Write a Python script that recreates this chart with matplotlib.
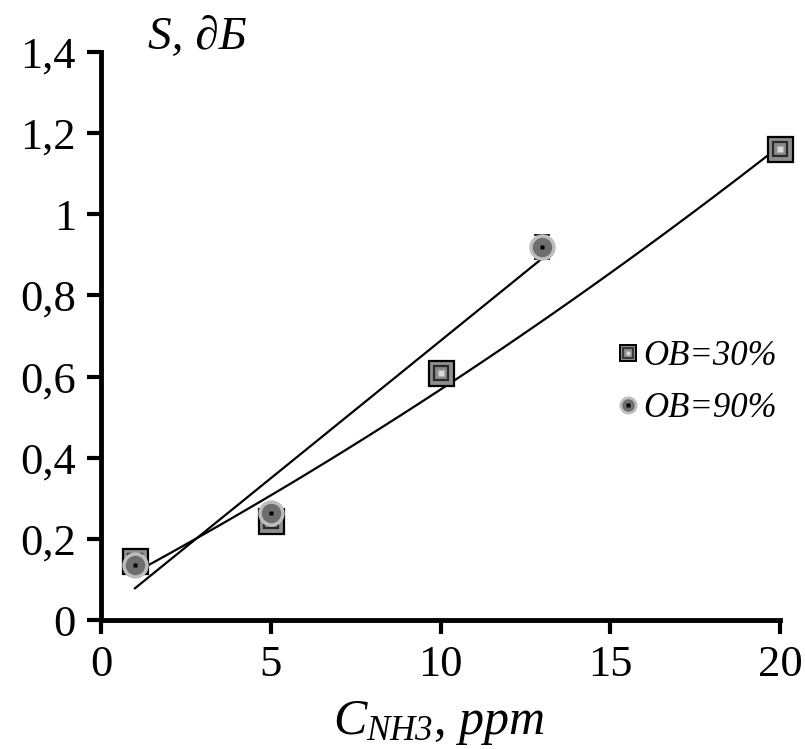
import numpy as np
import matplotlib
matplotlib.use("Agg")
import matplotlib.pyplot as plt
from matplotlib.lines import Line2D

# Данные
x_30 = [1, 5, 10, 20]
s_30 = [0.145, 0.245, 0.61, 1.162]
x_90 = [1, 5, 13]
s_90 = [0.135, 0.265, 0.92]
err_90 = [0.0, 0.0, 0.03]
x_ticks = [0, 5, 10, 15, 20]
y_ticks = [0, 0.2, 0.4, 0.6, 0.8, 1.0, 1.2, 1.4]
y_labels = ["0", "0,2", "0,4", "0,6", "0,8", "1", "1,2", "1,4"]

plt.rcParams["font.family"] = ["Liberation Serif", "DejaVu Serif"]
plt.rcParams["mathtext.fontset"] = "custom"
plt.rcParams["mathtext.it"] = "Liberation Serif:italic"
plt.rcParams["mathtext.rm"] = "Liberation Serif:italic"

fig = plt.figure(figsize=(8.05, 7.49), dpi=100)
ax = fig.add_axes([0.1255, 0.172, 0.8435, 0.7586])

# линии тренда
p30 = np.polyfit(x_30, s_30, 2)
xx = np.linspace(1, 20, 100)
ax.plot(xx, np.polyval(p30, xx), color="black", lw=1.6, zorder=2)
p90 = np.polyfit(x_90, s_90, 1)
xx = np.linspace(1, 13, 50)
ax.plot(xx, np.polyval(p90, xx), color="black", lw=1.6, zorder=2)

def square_marker(x, y, scale=1.0):
    ax.plot(x, y, ls="none", marker="s", ms=18 * scale, mfc="#8f8f8f", mec="black", mew=1.6, clip_on=False, zorder=3)
    ax.plot(x, y, ls="none", marker="s", ms=10 * scale, mfc="#8a8a8a", mec="#2a2a2a", mew=1.6, clip_on=False, zorder=3)
    ax.plot(x, y, ls="none", marker="s", ms=4 * scale, mfc="#d8d8d8", mec="none", clip_on=False, zorder=3)

def circle_marker(x, y, scale=1.0):
    ax.plot(x, y, ls="none", marker="o", ms=19 * scale, mfc="#bdbdbd", mec="none", clip_on=False, zorder=4)
    ax.plot(x, y, ls="none", marker="o", ms=14 * scale, mfc="#6e6e6e", mec="none", clip_on=False, zorder=4)
    ax.plot(x, y, ls="none", marker="s", ms=3.5 * scale, mfc="black", mec="none", clip_on=False, zorder=4)

square_marker(x_30, s_30)
ax.errorbar(x_90, s_90, yerr=err_90, fmt="none", ecolor="black", elinewidth=1, capsize=6, capthick=1.2, zorder=3)
circle_marker(x_90, s_90)

ax.set_xlim(0, 20)
ax.set_ylim(0, 1.4)
ax.set_xticks(x_ticks)
ax.set_yticks(y_ticks)
ax.set_yticklabels(y_labels)
ax.tick_params(axis="both", direction="out", length=10, width=3, labelsize=32, pad=8)
for side in ["top", "right"]:
    ax.spines[side].set_visible(False)
for side in ["left", "bottom"]:
    ax.spines[side].set_linewidth(3.5)

fig.text(0.184, 0.935, "S, ∂Б", fontsize=34, style="italic", ha="left", va="baseline")
fig.text(0.545, 0.02, r"$C_{NH3}$, $ppm$", fontsize=36, ha="center", va="baseline")

# легенда
h1 = (Line2D([], [], ls="none", marker="s", ms=12, mfc="#8f8f8f", mec="black", mew=1.4),
      Line2D([], [], ls="none", marker="s", ms=6.5, mfc="#8a8a8a", mec="#2a2a2a", mew=1.2),
      Line2D([], [], ls="none", marker="s", ms=2.5, mfc="#d8d8d8", mec="none"))
h2 = (Line2D([], [], ls="none", marker="o", ms=13, mfc="#bdbdbd", mec="none"),
      Line2D([], [], ls="none", marker="o", ms=9, mfc="#6e6e6e", mec="none"),
      Line2D([], [], ls="none", marker="s", ms=2.5, mfc="black", mec="none"))
ax.legend([h1, h2], ["OB=30%", "OB=90%"], loc="center left", bbox_to_anchor=(0.735, 0.418),
          frameon=False, prop={"size": 25, "style": "italic"}, handlelength=0.8,
          handletextpad=0.05, labelspacing=0.55, borderaxespad=0)

fig.savefig("out.png", dpi=100)
